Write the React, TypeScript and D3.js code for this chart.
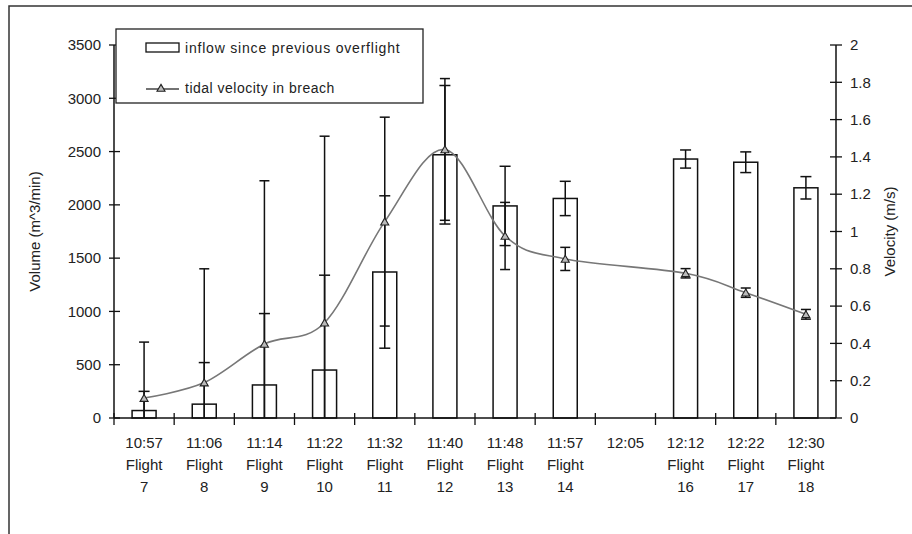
import React, { useRef, useEffect } from 'react';
import * as d3 from 'd3';

const times = ['10:57', '11:06', '11:14', '11:22', '11:32', '11:40', '11:48', '11:57', '12:05', '12:12', '12:22', '12:30'];
const flights = ['7', '8', '9', '10', '11', '12', '13', '14', '', '16', '17', '18'];
const inflow = [70, 130, 310, 450, 1370, 2470, 1990, 2060, null, 2430, 2400, 2160];
const inflowErr = [180, 390, 670, 890, 715, 650, 372, 161, null, 85, 97, 105];
const velocity = [0.107, 0.19, 0.397, 0.511, 1.053, 1.44, 0.976, 0.853, null, 0.776, 0.672, 0.556];
const velocityErr = [0.3, 0.61, 0.875, 1.0, 0.56, 0.38, 0.18, 0.062, null, 0.025, 0.025, 0.026];
const volumeTicks = [0, 500, 1000, 1500, 2000, 2500, 3000, 3500];
const velocityTicks = [0, 0.2, 0.4, 0.6, 0.8, 1, 1.2, 1.4, 1.6, 1.8, 2];

const App = () => {
  const ref = useRef<SVGSVGElement | null>(null);

  useEffect(() => {
    if (!ref.current) return;
    const svg = d3.select(ref.current);
    svg.selectAll('*').remove();

    const font = 'Liberation Sans, Arial, sans-serif';
    const textColor = '#222';
    const left = 114, right = 836, top = 45, bottom = 418;

    const x = d3.scaleBand<string>().domain(times).range([left, right]).padding(0);
    const y = d3.scaleLinear().domain([0, 3500]).range([bottom, top]);
    const yv = d3.scaleLinear().domain([0, 2]).range([bottom, top]);
    const cx = (i: number) => (x(times[i]) as number) + x.bandwidth() / 2;

    // outer frame
    svg.append('rect')
      .attr('x', 9).attr('y', 6).attr('width', 1200).attr('height', 1200)
      .attr('fill', 'none').attr('stroke', '#333').attr('stroke-width', 1.5);

    // bars
    const barW = 24;
    inflow.forEach((v, i) => {
      if (v == null) return;
      svg.append('rect')
        .attr('x', cx(i) - barW / 2).attr('y', y(v))
        .attr('width', barW).attr('height', y(0) - y(v))
        .attr('fill', '#fff').attr('stroke', '#111').attr('stroke-width', 1.5);
    });

    // error bars helper
    const errBar = (xc: number, y1: number, y2: number, capTop: boolean, capBottom: boolean, cap: number) => {
      svg.append('line').attr('x1', xc).attr('x2', xc).attr('y1', y1).attr('y2', y2)
        .attr('stroke', '#111').attr('stroke-width', 1.5);
      if (capTop) svg.append('line').attr('x1', xc - cap / 2).attr('x2', xc + cap / 2).attr('y1', y1).attr('y2', y1)
        .attr('stroke', '#111').attr('stroke-width', 1.5);
      if (capBottom) svg.append('line').attr('x1', xc - cap / 2).attr('x2', xc + cap / 2).attr('y1', y2).attr('y2', y2)
        .attr('stroke', '#111').attr('stroke-width', 1.5);
    };

    inflow.forEach((v, i) => {
      const e = inflowErr[i];
      if (v == null || e == null) return;
      const lo = v - e;
      errBar(cx(i), y(v + e), y(Math.max(0, lo)), true, lo > 0, 11);
    });

    // velocity line
    const pts = velocity.map((v, i) => ({ i, v })).filter(d => d.v != null) as { i: number; v: number }[];
    const line = d3.line<{ i: number; v: number }>()
      .x(d => cx(d.i))
      .y(d => yv(d.v))
      .curve(d3.curveCardinal.tension(0));
    svg.append('path').datum(pts)
      .attr('fill', 'none').attr('stroke', '#777').attr('stroke-width', 1.6).attr('d', line);

    pts.forEach(d => {
      const e = velocityErr[d.i] as number;
      const lo = d.v - e;
      errBar(cx(d.i), yv(d.v + e), yv(Math.max(0, lo)), true, lo > 0, 10);
    });

    const tri = d3.symbol().type(d3.symbolTriangle).size(28);
    svg.selectAll('path.marker').data(pts).enter().append('path')
      .attr('class', 'marker')
      .attr('d', tri)
      .attr('transform', d => `translate(${cx(d.i)},${yv(d.v) + 1})`)
      .attr('fill', '#bbb').attr('stroke', '#222').attr('stroke-width', 1.1);

    // left axis
    svg.append('line').attr('x1', left).attr('x2', left).attr('y1', top).attr('y2', bottom)
      .attr('stroke', '#111').attr('stroke-width', 1.5);
    volumeTicks.forEach(t => {
      svg.append('line').attr('x1', left - 5).attr('x2', left + 6).attr('y1', y(t)).attr('y2', y(t))
        .attr('stroke', '#111').attr('stroke-width', 1.3);
      svg.append('text').attr('x', 101).attr('y', y(t)).attr('dy', '0.35em')
        .attr('text-anchor', 'end').attr('font-family', font).attr('font-size', 15)
        .attr('fill', textColor).text(String(t));
    });

    // right axis
    svg.append('line').attr('x1', right).attr('x2', right).attr('y1', top).attr('y2', bottom)
      .attr('stroke', '#111').attr('stroke-width', 1.5);
    velocityTicks.forEach(t => {
      svg.append('line').attr('x1', right - 6).attr('x2', right + 6).attr('y1', yv(t)).attr('y2', yv(t))
        .attr('stroke', '#111').attr('stroke-width', 1.3);
      svg.append('text').attr('x', 850).attr('y', yv(t)).attr('dy', '0.35em')
        .attr('text-anchor', 'start').attr('font-family', font).attr('font-size', 15)
        .attr('fill', textColor).text(String(t));
    });

    // bottom axis
    svg.append('line').attr('x1', left).attr('x2', right).attr('y1', bottom).attr('y2', bottom)
      .attr('stroke', '#111').attr('stroke-width', 1.5);
    times.forEach((t, i) => {
      const bx = x(t) as number;
      svg.append('line').attr('x1', bx).attr('x2', bx).attr('y1', bottom - 5).attr('y2', bottom + 7)
        .attr('stroke', '#111').attr('stroke-width', 1.3);
      const g = svg.append('text').attr('text-anchor', 'middle').attr('font-family', font)
        .attr('font-size', 15).attr('fill', textColor);
      g.append('tspan').attr('x', cx(i)).attr('y', 448).text(t);
      if (flights[i]) {
        g.append('tspan').attr('x', cx(i)).attr('y', 470).text('Flight');
        g.append('tspan').attr('x', cx(i)).attr('y', 492).text(flights[i]);
      }
    });

    // axis titles
    svg.append('text').attr('transform', `translate(40,${(top + bottom) / 2}) rotate(-90)`)
      .attr('text-anchor', 'middle').attr('font-family', font).attr('font-size', 15)
      .attr('fill', textColor).text('Volume (m^3/min)');
    svg.append('text').attr('transform', `translate(895,${(top + bottom) / 2}) rotate(-90)`)
      .attr('text-anchor', 'middle').attr('font-family', font).attr('font-size', 15)
      .attr('fill', textColor).text('Velocity (m/s)');

    // legend
    svg.append('rect').attr('x', 116).attr('y', 29).attr('width', 307).attr('height', 74)
      .attr('fill', '#fff').attr('stroke', '#222').attr('stroke-width', 1.3);
    svg.append('rect').attr('x', 146).attr('y', 43).attr('width', 33).attr('height', 9)
      .attr('fill', '#fff').attr('stroke', '#111').attr('stroke-width', 1.3);
    svg.append('text').attr('x', 185).attr('y', 48).attr('dy', '0.35em')
      .attr('font-family', font).attr('font-size', 14).attr('letter-spacing', 0.8).attr('fill', textColor)
      .text('inflow since previous overflight');
    svg.append('line').attr('x1', 146).attr('x2', 179).attr('y1', 89).attr('y2', 89)
      .attr('stroke', '#444').attr('stroke-width', 1.3);
    svg.append('path').attr('d', tri).attr('transform', 'translate(161,89)')
      .attr('fill', '#bbb').attr('stroke', '#222').attr('stroke-width', 1.1);
    svg.append('text').attr('x', 185).attr('y', 88).attr('dy', '0.35em')
      .attr('font-family', font).attr('font-size', 14).attr('letter-spacing', 0.5).attr('fill', textColor)
      .text('tidal velocity in breach');
  }, []);

  return (
    <svg ref={ref} width={912} height={534}
      style={{ position: 'absolute', left: 0, top: 0, background: '#fff' }} />
  );
};

export default App;
